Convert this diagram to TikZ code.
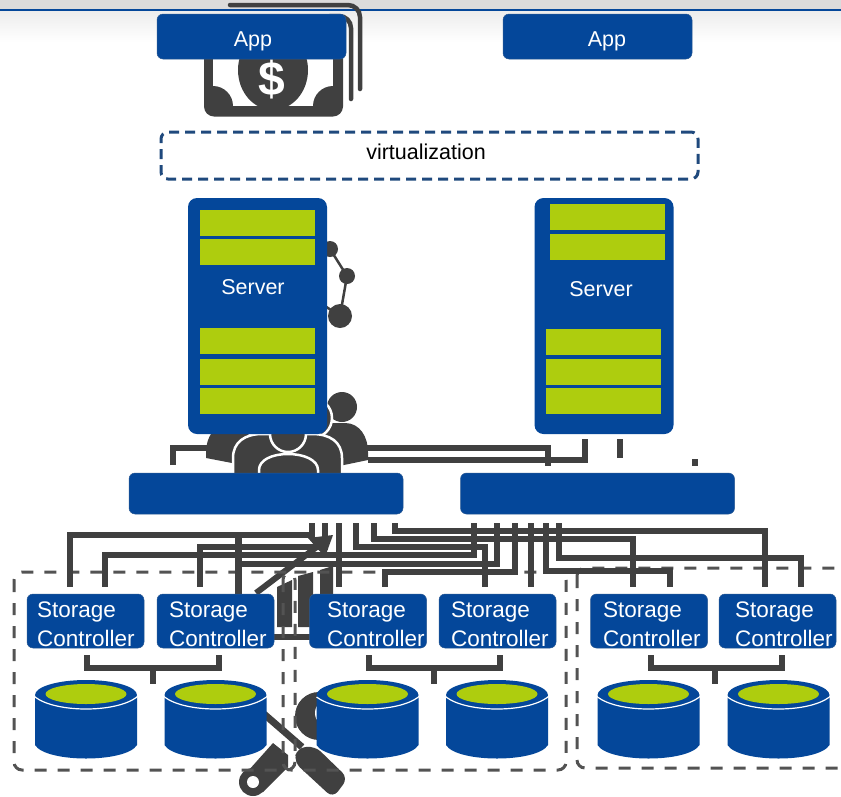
\documentclass[tikz,border=0pt]{standalone}
\usepackage{fontspec}
\setmainfont{Liberation Sans}
\usepackage{tikz}
\usetikzlibrary{calc}
\definecolor{hwblue}{HTML}{04479A}
\definecolor{hwgreen}{HTML}{AECD0E}
\definecolor{hwdark}{HTML}{404040}
\definecolor{hwdash}{HTML}{1F497D}
\newcommand{\lblfont}{\fontsize{21.5}{29}\selectfont}
\tikzstyle{bluebox} = [rectangle, rounded corners=6pt, inner sep=0pt, outer sep=0pt, draw=hwblue!70!gray, line width=0.5pt, fill=hwblue, text=white, font=\lblfont]
\tikzstyle{appbox} = [bluebox, minimum width=189pt, minimum height=45pt]
\tikzstyle{serverbox} = [bluebox, rounded corners=9pt, minimum width=139pt, minimum height=236pt, draw=none]
\tikzstyle{switchbox} = [bluebox, minimum width=274pt, minimum height=41pt]
\tikzstyle{ctrlbox} = [bluebox, minimum width=117pt, minimum height=54pt]
\tikzstyle{ctrltext} = [inner sep=0pt, text=white, font=\fontsize{22.5}{29}\selectfont, align=left]
\tikzstyle{boxtext} = [inner sep=0pt, text=white, font=\lblfont]
\tikzstyle{slot} = [rectangle, inner sep=0pt, outer sep=0pt, fill=hwgreen, minimum width=115pt, minimum height=26pt]
\tikzstyle{virtbox} = [rectangle, rounded corners=7pt, inner sep=0pt, draw=hwdash, line width=3pt, dash pattern=on 10pt off 6pt, minimum width=537pt, minimum height=47pt, font=\lblfont]
\tikzstyle{bus} = [draw=hwdark, line width=5.5pt]
\tikzstyle{group} = [draw=hwdark!90!white, line width=3pt, rounded corners=8pt, dash pattern=on 12pt off 11pt]
\tikzstyle{icon} = [fill=hwdark]
\tikzstyle{manbody} = [fill=hwdark, draw=white, line width=2.5pt]
\begin{document}
\begin{tikzpicture}[x=1pt,y=-1pt,node distance=100pt]
	\useasboundingbox (0,0) rectangle (841,796);
	%slide background
	\fill[gray!28] (0,0) rectangle (841,9);
	\shade[top color=gray!14,bottom color=white] (0,11) rectangle (841,42);
	\fill[hwblue] (0,9) rectangle (841,11);
	%money icon
	\draw[hwdark,line width=4.5pt,line cap=round,rounded corners=12pt] (230,5) -- (360,5) -- (360,89);
	\draw[hwdark,line width=4.5pt,line cap=round,rounded corners=12pt] (330,16) -- (351,16) -- (351,99);
	\fill[icon,rounded corners=10pt] (204,40) rectangle (343,116.5);
	\fill[white] (213,50) rectangle (333,106);
	\begin{scope}
		\clip (213,50) rectangle (333,106);
		\fill[icon] (213,106) circle (20);
		\fill[icon] (333,106) circle (20);
	\end{scope}
	\fill[icon] (273,70) ellipse (35 and 40);
	\node (Dlr) at (272,79) [text=white,inner sep=0pt,font=\fontsize{48}{48}\selectfont\bfseries] {\$};
	%network icon
	\draw[hwdark,line width=2.5pt] (330,249) -- (347,276) -- (340,316) -- (325,306);
	\fill[icon] (330,249) circle (8);
	\fill[icon] (347,276) circle (8);
	\fill[icon] (340,316) circle (12);
	%links between servers and switches
	\coordinate (UpA) at (173,465);
	\coordinate (UpB) at (548,466);
	\coordinate (UpC) at (585,439);
	\coordinate (UpD) at (368,460);
	\coordinate (UpE) at (620,439);
	\coordinate (UpF) at (620,458);
	\coordinate (UpG) at (695,459);
	\coordinate (UpH) at (695,466);
	\draw [bus](UpA) |- (548,448) -- (UpB);
	\draw [bus](UpC) |- (UpD);
	\draw [bus](UpE) -- (UpF);
	\draw [bus](UpG) -- (UpH);
	%people icon
	\fill[icon] (342,407) circle (15);
	\fill[icon] (320,470) -- (320,423) -- (345,423) .. controls (360,423) and (368,437) .. (368,452) -- (368,460) -- cycle;
	\fill[icon] (255,470) -- (255,423) -- (230,423) .. controls (215,423) and (206,437) .. (206,452) -- (206,458) -- (232,463) -- cycle;
	\filldraw[manbody] (312,418) circle (20);
	\filldraw[manbody] (262,418) circle (20);
	\filldraw[manbody] (233,480) -- (233,458) .. controls (233,442) and (245,434) .. (262,434) -- (312,434) .. controls (330,434) and (342,442) .. (342,458) -- (342,480) -- cycle;
	\filldraw[manbody] (288,434) circle (18);
	\filldraw[manbody] (259,480) -- (259,470) .. controls (259,460) and (272,454) .. (288,454) .. controls (304,454) and (318,460) .. (318,470) -- (318,480) -- cycle;
	%tools icon
	\fill[icon] (319,716) circle (24);
	\fill[white] (319,713) ellipse (4 and 8);
	\draw[white,line width=10pt] (264,714) -- (300,745);
	\draw[hwdark,line width=7pt] (264,714) -- (302,747);
	\fill[icon,rounded corners=8pt] (297,748) -- (315,746) -- (348,778) -- (333,798) -- (294,762) -- cycle;
	\fill[icon] (273,743) -- (288,755) -- (288,767) -- (263,792) -- (240,780) -- cycle;
	\fill[icon] (253,782) circle (14);
	\fill[white] (253,782) circle (6);
	%chart icon
	\draw[hwdark,line width=6pt] (256,593) -- (318,546);
	\fill[icon] (333,535) -- (308,538) -- (325,557) -- cycle;
	\fill[icon] (277,587) -- (292,580) -- (292,627) -- (277,627) -- cycle;
	\fill[icon] (298,576) -- (313,572) -- (313,627) -- (298,627) -- cycle;
	\fill[icon] (320,570) -- (333,566) -- (333,627) -- (320,627) -- cycle;
	\coordinate (BaseL) at (270,637);
	\coordinate (BaseR) at (315,637);
	\draw [bus,line width=6pt](BaseL) -- (BaseR);
	%dashed storage groups
	\draw[group] (14,572) rectangle (295,770);
	\draw[group] (283,572) rectangle (566,770);
	\draw[group] (577,568) rectangle (860,768);
	%links from switches to controllers
	\foreach \n/\x in {a/312,b/325,c/339,d/356,e/374,f/395,g/474,h/497,i/515,j/531,k/546,l/559}
		\coordinate (S\n) at (\x,523);
	\foreach \n/\x in {a/70,b/105,c/200,d/339,e/385,f/485,g/531,h/633,i/670,j/765,k/801}
		\coordinate (T\n) at (\x,587);
	\coordinate (Tt) at (238,594);
	\foreach \s/\y/\t in {a/535/a,b/547/c,g/555/b,i/572/e,d/547/f,e/539/h,f/531/j,k/571/i,l/558/k}
		\draw [bus](S\s) -- (S\s |- 0,\y) -| (T\t);
	\draw [bus](Sh) |- (238,564) -- (Tt);
	\draw [bus,line width=7pt](238,535) -- (Tt);
	\draw [bus](Sc) -- (Td);
	\draw [bus](Sj) -- (Tg);
	%brackets below controllers
	\foreach \a/\b/\c in {87/219/153,369/500/434,651/782/715}{
		\draw [bus](\a,655) |- (\b,668) -- (\b,655);
		\draw [bus](\c,668) -- (\c,684);
	}
	%disks
	\foreach \x in {86,215.5,367.5,497,648.5,778.5}{
		\fill[hwblue] (\x-51,697) -- (\x-51,745) .. controls (\x-40,763) and (\x+40,763) .. (\x+51,745) -- (\x+51,697) -- cycle;
		\fill[hwblue] (\x,695) ellipse (51 and 15);
		\draw[white,line width=1.2pt] (\x-51,697) .. controls (\x-30,713) and (\x+30,713) .. (\x+51,697);
		\fill[hwgreen] (\x,694) ellipse (40.5 and 10);
	}
	%boxes
	\node (App1) [appbox] at (251.5,36.5) {};
	\node (App2) [appbox,right of=App1,xshift=246pt] {};
	\node (App1T) [boxtext] at (253,41) {App};
	\node (App2T) [boxtext] at (607,41) {App};
	\node (Virt) [virtbox] at (429.5,155.5) {};
	\node (VirtT) at (426,152) [font=\lblfont,inner sep=0pt] {virtualization};
	\node (SvL) [serverbox] at (257.5,316) {};
	\node (SvR) [serverbox,right of=SvL,xshift=246.5pt] {};
	\foreach \n/\x/\y in {a/257.5/223,b/257.5/251.5,c/257.5/341,d/257.5/372,e/257.5/400.5,f/607.5/217,g/607.5/246.5,h/603.5/342,i/603.5/372,j/603.5/400.5}
		\node (B\n) [slot] at (\x,\y) {};
	\node (SvLT) [boxtext] at (253,287) {Server};
	\node (SvRT) [boxtext] at (601,289) {Server};
	\node (SwL) [switchbox] at (266,493.5) {};
	\node (SwR) [switchbox,right of=SwL,xshift=231.5pt] {};
	\foreach \n/\x/\t in {1/85.5/37,2/215.5/169,3/368/327,4/497.5/451,5/649/603,6/777.5/735}{
		\node (SC\n) [ctrlbox] at (\x,621) {};
		\node (SC\n T) [ctrltext,anchor=base west] at (\t,646) {Storage\\Controller};
	}
\end{tikzpicture}
\end{document}
